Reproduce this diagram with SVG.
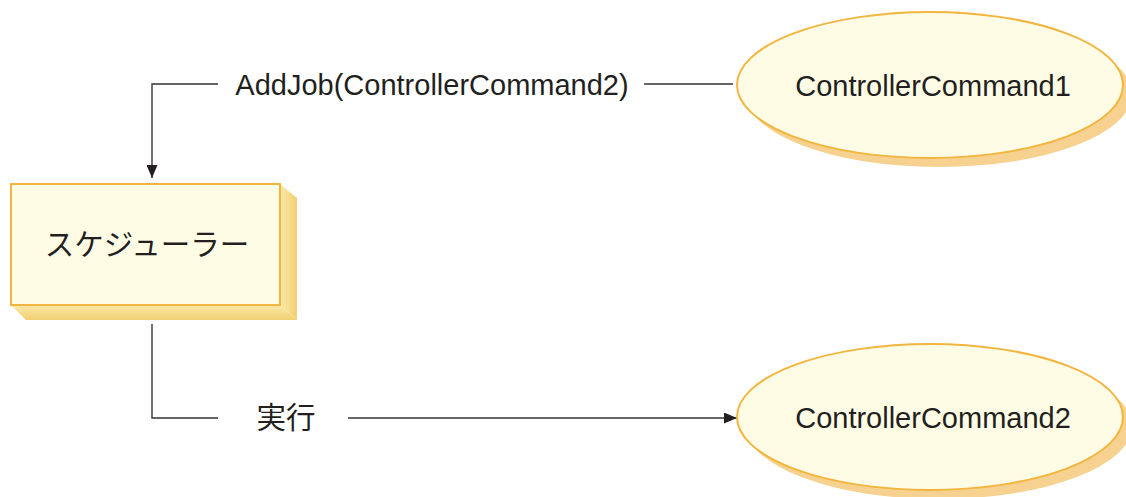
<svg xmlns="http://www.w3.org/2000/svg" width="1126" height="497" viewBox="0 0 1126 497">
<style>
.node{fill:#fffce6;stroke:#f2b53f;stroke-width:2}
.shadow{fill:#f6d18f}
.lbl{font-family:"Liberation Sans",Arial,sans-serif;font-size:29px;fill:#231f20}
.jp{font-family:"Noto Sans CJK JP",sans-serif;font-size:29.5px;fill:#231f20}
.conn{fill:none;stroke:#333;stroke-width:1.4}
</style>
<defs>
<linearGradient id="sg" x1="0" y1="0" x2="1" y2="0">
<stop offset="0" stop-color="#fbe9a8"/>
<stop offset="1" stop-color="#f2cf72"/>
</linearGradient>
<linearGradient id="sg2" x1="0" y1="0" x2="0" y2="1">
<stop offset="0" stop-color="#fbe9a8"/>
<stop offset="1" stop-color="#f2cf72"/>
</linearGradient>
<marker id="arr" markerWidth="13" markerHeight="11" refX="13" refY="5.5" orient="auto" markerUnits="userSpaceOnUse">
<path d="M0,0 L13,5.5 L0,11 Z" fill="#231f20"/>
</marker>
</defs>
<g id="connectors">
<polyline class="conn" points="218,84 152,84 152,178" marker-end="url(#arr)"/>
<line class="conn" x1="644" y1="84" x2="733" y2="84"/>
<polyline class="conn" points="152,324 152,418 218,418"/>
<line class="conn" x1="348" y1="418" x2="737" y2="418" marker-end="url(#arr)"/>
<text class="lbl" x="432" y="95" text-anchor="middle">AddJob(ControllerCommand2)</text>
<text class="jp" x="286" y="428" text-anchor="middle">実行</text>
</g>
<g id="scheduler">
<polygon points="280,184 297,198 297,320 280,305" fill="url(#sg)"/>
<polygon points="11,305 280,305 297,320 26,320" fill="url(#sg2)"/>
<rect class="node" x="11" y="184" width="269" height="121"/>
<text class="jp" x="147" y="255" text-anchor="middle">スケジューラー</text>
</g>
<g id="cc1">
<ellipse class="shadow" cx="939" cy="94" rx="193" ry="73"/>
<ellipse class="node" cx="930" cy="85" rx="193" ry="73"/>
<text class="lbl" x="933" y="96" text-anchor="middle">ControllerCommand1</text>
</g>
<g id="cc2">
<ellipse class="shadow" cx="939" cy="426" rx="193" ry="73"/>
<ellipse class="node" cx="930" cy="417" rx="193" ry="73"/>
<text class="lbl" x="933" y="428" text-anchor="middle">ControllerCommand2</text>
</g>
</svg>
